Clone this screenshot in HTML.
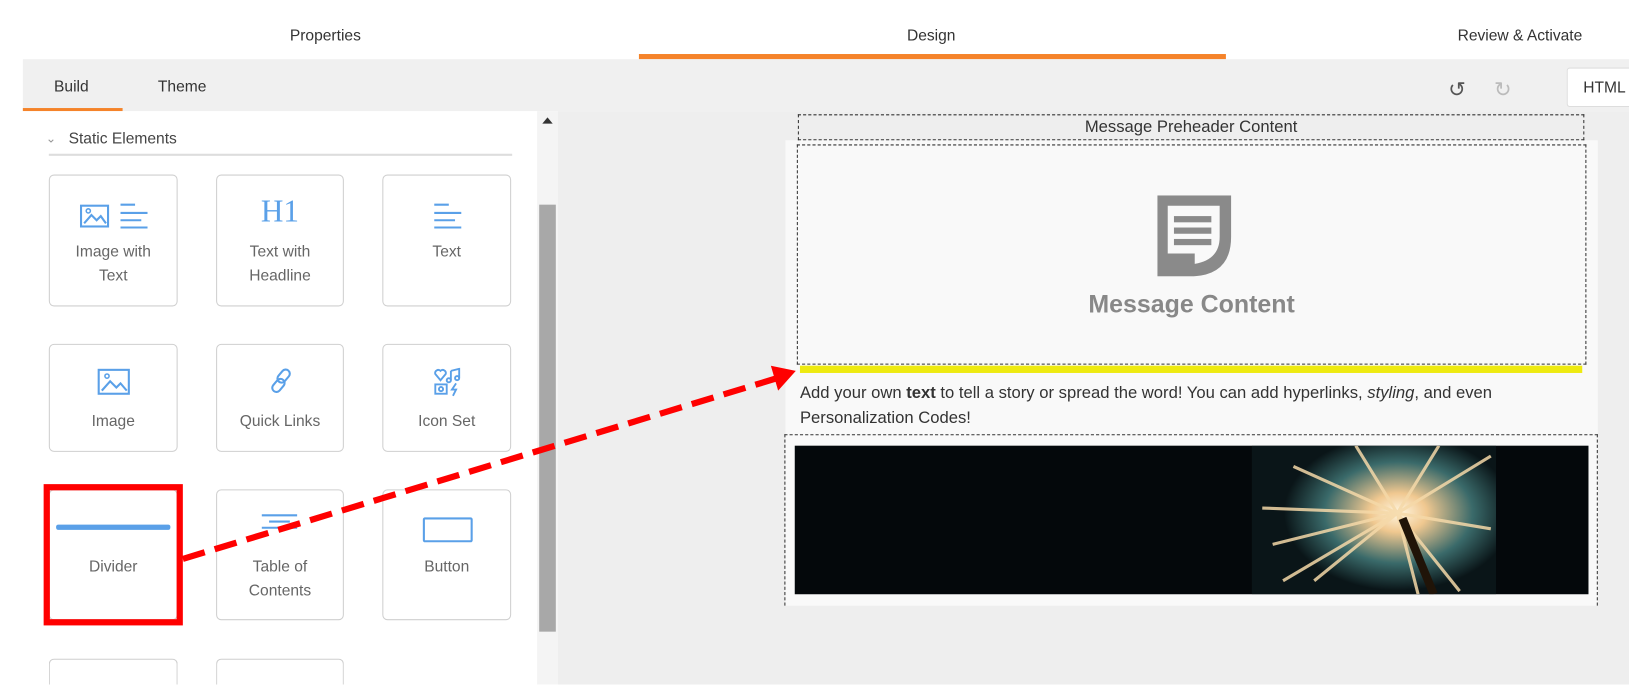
<!DOCTYPE html>
<html><head><style>
html,body{margin:0;padding:0;width:1629px;height:685px;overflow:hidden;background:#fff}
#o{position:relative;width:1629px;height:685px;overflow:hidden}
#w{position:absolute;left:0;top:0;width:1568px;height:659px;overflow:hidden;transform:scale(1.0389);transform-origin:0 0;font-family:"Liberation Sans",sans-serif}
.a{position:absolute}
.t{position:absolute;font-size:15px;color:#333}
.card{position:absolute;border:1px solid #cfcfcf;border-radius:5px;background:#fff;box-sizing:border-box}
.lab{position:absolute;left:0;right:0;text-align:center;font-size:15px;color:#666;line-height:23px}
</style></head><body><div id="o"><div id="w">
<div class="t" style="left:279px;top:26px">Properties</div>
<div class="t" style="left:873px;top:26px">Design</div>
<div class="t" style="left:1403px;top:26px">Review &amp; Activate</div>
<div class="a" style="left:615px;top:52px;width:565px;height:5px;background:#f5832a"></div>
<div class="a" style="left:22px;top:57px;width:1546px;height:50px;background:#f0f0f0"></div>
<div class="t" style="left:52px;top:75px">Build</div>
<div class="t" style="left:152px;top:75px">Theme</div>
<div class="a" style="left:22px;top:104px;width:96px;height:3px;background:#f5832a"></div>
<div class="a" style="left:1394px;top:74px;font-size:20px;color:#555">&#8634;</div>
<div class="a" style="left:1438px;top:74px;font-size:20px;color:#bbb">&#8635;</div>
<div class="a" style="left:1508px;top:65px;width:60px;height:38px;background:#fff;border:1px solid #ddd;border-right:none;border-radius:3px 0 0 3px;box-sizing:border-box"></div>
<div class="t" style="left:1524px;top:76px">HTML</div>
<div class="a" style="left:22px;top:107px;width:495px;height:552px;background:#fff"></div>
<div class="a" style="left:517px;top:107px;width:20px;height:552px;background:#f4f4f4"></div>
<div class="a" style="left:519px;top:197px;width:16px;height:411px;background:#a8a8a8"></div>
<div class="a" style="left:522px;top:113px;width:0;height:0;border-left:5px solid transparent;border-right:5px solid transparent;border-bottom:6px solid #333"></div>
<div class="a" style="left:537px;top:107px;width:1031px;height:552px;background:#eeeeee"></div>
<div class="a" style="left:44px;top:126px;font-size:12px;color:#999">&#8964;</div>
<div class="t" style="left:66px;top:125px;color:#444">Static Elements</div>
<div class="a" style="left:47px;top:148px;width:446px;height:2px;background:#ddd"></div>
<div class="card" style="left:47px;top:168px;width:124px;height:127px"><div class="lab" style="top:62px">Image with<br>Text</div>
<svg class="a" style="left:28px;top:26px" width="70" height="26"><rect x="2" y="3" width="26" height="20" fill="none" stroke="#5aa0e8" stroke-width="2"/><path d="M5 20 L12 12 L17 17 L21 13 L26 20" fill="none" stroke="#5aa0e8" stroke-width="2"/><circle cx="9" cy="8" r="2" fill="none" stroke="#5aa0e8" stroke-width="1.5"/><path d="M40 2h14M40 10h26M40 17h20M40 24h26" stroke="#5aa0e8" stroke-width="2"/></svg></div>
<div class="card" style="left:208px;top:168px;width:123px;height:127px"><div class="lab" style="top:62px">Text with<br>Headline</div>
<div class="a" style="left:0;right:0;top:18px;text-align:center;font-family:'Liberation Serif',serif;font-size:30px;color:#5aa0e8">H1</div></div>
<div class="card" style="left:368px;top:168px;width:124px;height:127px"><div class="lab" style="top:62px">Text</div>
<svg class="a" style="left:48px;top:26px" width="28" height="26"><path d="M1 2h14M1 10h26M1 17h20M1 24h26" stroke="#5aa0e8" stroke-width="2"/></svg></div>
<div class="card" style="left:47px;top:331px;width:124px;height:104px"><div class="lab" style="top:62px">Image</div>
<svg class="a" style="left:45px;top:22px" width="34" height="28"><rect x="2" y="2" width="29" height="23" fill="none" stroke="#5aa0e8" stroke-width="2"/><path d="M5 22 L13 13 L19 19 L23 15 L29 22" fill="none" stroke="#5aa0e8" stroke-width="2"/><circle cx="10" cy="8" r="2" fill="none" stroke="#5aa0e8" stroke-width="1.5"/></svg></div>
<div class="card" style="left:208px;top:331px;width:123px;height:104px"><div class="lab" style="top:62px">Quick Links</div>
<svg class="a" style="left:49px;top:22px" width="26" height="26"><g fill="none" stroke="#5aa0e8" stroke-width="2"><rect x="11" y="1" width="8" height="14" rx="4" transform="rotate(40 15 8)"/><rect x="6" y="10" width="8" height="14" rx="4" transform="rotate(40 10 17)"/></g></svg></div>
<div class="card" style="left:368px;top:331px;width:124px;height:104px"><div class="lab" style="top:62px">Icon Set</div>
<svg class="a" style="left:48px;top:22px" width="28" height="28"><g fill="none" stroke="#5aa0e8" stroke-width="1.8"><path d="M7 12 L2 6 A3 3 0 0 1 7 3 A3 3 0 0 1 12 6 Z"/><rect x="2" y="16" width="11" height="9"/><circle cx="7.5" cy="20.5" r="2"/><path d="M17 3 L25 1 V10 M17 3 V12"/><circle cx="15" cy="12" r="2"/><circle cx="23" cy="10" r="2"/><path d="M22 15 L18 21 H22 L19 27"/></g></svg></div>
<div class="card" style="left:47px;top:471px;width:124px;height:126px"><div class="lab" style="top:62px">Divider</div></div>
<div class="a" style="left:54px;top:505px;width:110px;height:5px;background:#5aa0e8;border-radius:2px"></div>
<div class="card" style="left:208px;top:471px;width:123px;height:126px"><div class="lab" style="top:62px">Table of<br>Contents</div>
<svg class="a" style="left:42px;top:22px" width="40" height="16"><path d="M1 2h34M8 8h20M1 14h34" stroke="#5aa0e8" stroke-width="2"/></svg></div>
<div class="card" style="left:368px;top:471px;width:124px;height:126px"><div class="lab" style="top:62px">Button</div>
<div class="a" style="left:38px;top:26px;width:44px;height:20px;border:2px solid #5aa0e8;border-radius:2px"></div></div>
<div class="card" style="left:47px;top:634px;width:124px;height:25px;border-bottom:none;border-radius:5px 5px 0 0"></div>
<div class="card" style="left:208px;top:634px;width:123px;height:25px;border-bottom:none;border-radius:5px 5px 0 0"></div>
<div class="a" style="left:42px;top:466px;width:134px;height:136px;border:6px solid #ff0000;box-sizing:border-box"></div>
<div class="a" style="left:756px;top:135px;width:782px;height:448px;background:#f9f9f9"></div>
<div class="a" style="left:768px;top:110px;width:757px;height:25px;border:1.5px dashed #333;box-sizing:border-box"></div>
<div class="a" style="left:768px;top:114px;width:757px;text-align:center;font-size:16px;color:#333">Message Preheader Content</div>
<div class="a" style="left:767px;top:139px;width:760px;height:212px;border:1.5px dashed #333;box-sizing:border-box"></div>
<svg class="a" style="left:1114px;top:188px" width="72" height="78"><path d="M0 0 H71 V40 Q71 76 35 78 H0 Z" fill="#8a8a8a"/><path d="M10 10 H60 V40 Q60 62 36 66 V56 H10 Z" fill="#f9f9f9"/><rect x="16" y="20" width="36" height="6" fill="#8a8a8a"/><rect x="16" y="31" width="36" height="6" fill="#8a8a8a"/><rect x="16" y="42" width="36" height="6" fill="#8a8a8a"/></svg>
<div class="a" style="left:767px;top:280px;width:760px;text-align:center;font-size:24px;font-weight:bold;color:#888">Message Content</div>
<div class="a" style="left:770px;top:352px;width:753px;height:7px;background:#eeea10"></div>
<div class="a" style="left:770px;top:367px;font-size:16px;color:#333;line-height:24px">Add your own <b>text</b> to tell a story or spread the word! You can add hyperlinks, <i>styling</i>, and even<br>Personalization Codes!</div>
<div class="a" style="left:755px;top:418px;width:783px;height:165px;border:1px dashed #333;border-bottom:none;box-sizing:border-box"></div>
<div class="a" style="left:765px;top:429px;width:764px;height:143px;background:#04080b;overflow:hidden">
<div class="a" style="left:440px;top:0;width:235px;height:143px;background:radial-gradient(ellipse 110px 75px at 60% 45%,#fff6e0 0%,#f0c890 25%,#3a6a6a 65%,#0a1518 100%)"></div>
<svg class="a" style="left:440px;top:0" width="235" height="143"><g stroke="#f5d9a8" stroke-width="3" opacity=".85"><path d="M140 65 L40 20M140 65L20 95M140 65L60 130M140 65L230 10M140 65L200 140M140 65L100 0M140 65L10 60M140 65L230 80M140 65L160 143M140 65L30 130M140 65L180 0"/></g><path d="M145 70 L175 143" stroke="#201408" stroke-width="8"/></svg>
</div>
<svg class="a" style="left:0;top:0" width="1568" height="659"><line x1="176" y1="538" x2="748" y2="364" stroke="#ff0000" stroke-width="6" stroke-dasharray="22 10"/><polygon points="766,357 742,352 749,376" fill="#ff0000"/></svg>
</div></div></body></html>
